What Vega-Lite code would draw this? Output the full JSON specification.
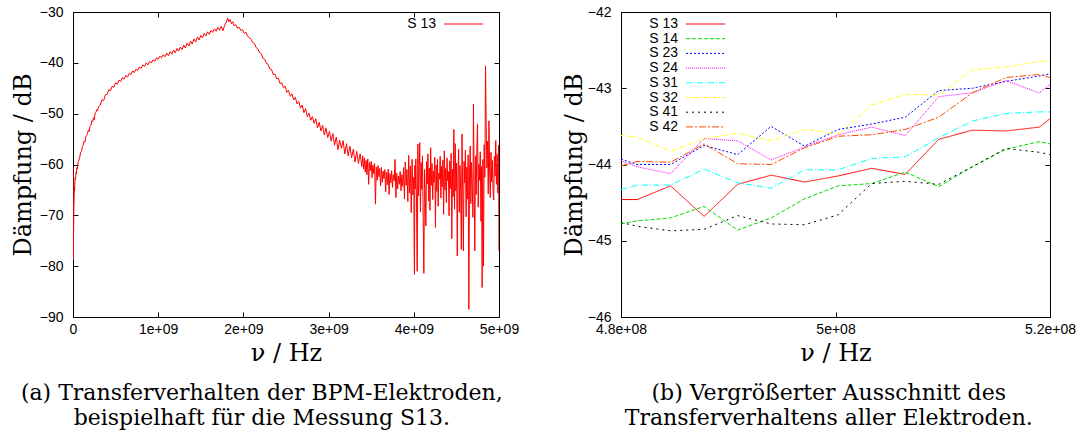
{
"$schema": "https://vega.github.io/schema/vega-lite/v6.json",
"padding": {"left": 10, "top": 4, "right": 0, "bottom": 0},
"spacing": 122,
"bounds": "flush",
"resolve": {"scale": {"color": "independent", "strokeDash": "independent"}, "legend": {"color": "independent", "strokeDash": "independent"}},
"config": {
 "view": {"stroke": "black", "strokeWidth": 1},
 "axis": {"domain": false, "grid": false, "ticks": true, "tickColor": "black", "tickSize": -5, "tickWidth": 1, "labelFont": "Liberation Sans", "labelFontSize": 14, "labelColor": "black", "labelFlush": false, "labelOverlap": false, "titleFont": "DejaVu Serif", "titleFontSize": 24, "titleFontWeight": "normal", "titleColor": "black"},
 "title": {"font": "DejaVu Serif", "fontSize": 22, "fontWeight": "normal", "color": "black", "lineHeight": 25},
 "legend": {"orient": "none", "title": null, "symbolType": "M-4,0H4", "symbolSize": 95, "symbolStrokeWidth": 1, "labelFont": "Liberation Sans", "labelFontSize": 14, "labelColor": "black", "labelAlign": "right", "labelOffset": -34.5, "rowPadding": 0.7, "padding": 0, "labelLimit": 300}
},
"hconcat": [
{
 "width": 426, "height": 305,
 "title": {"text": ["(a) Transferverhalten der BPM-Elektroden,", "beispielhaft für die Messung S13."], "orient": "bottom", "anchor": "middle", "frame": "bounds", "offset": 18, "dx": -3},
 "data": {"values": [
{"f":0,"d":-60.6},{"f":0.003e9,"d":-78.7},{"f":0.006e9,"d":-74.5},{"f":0.009e9,"d":-69.5},{"f":0.0125e9,"d":-66.8},{"f":0.016e9,"d":-64.6},{"f":0.019e9,"d":-65.2},{"f":0.022e9,"d":-63.4},{"f":0.025e9,"d":-62.7},{"f":0.03e9,"d":-62.9},{"f":0.035e9,"d":-61.6},{"f":0.04e9,"d":-61.8},{"f":0.045e9,"d":-60.6},{"f":0.05e9,"d":-60.9},{"f":0.06e9,"d":-59.6},{"f":0.07e9,"d":-59.1},{"f":0.08e9,"d":-58.5},{"f":0.09e9,"d":-57.6},
{"f":0.1e9,"d":-57.4},{"f":0.11e9,"d":-56.5},{"f":0.12e9,"d":-56.2},{"f":0.13e9,"d":-55.4},{"f":0.14e9,"d":-55.6},{"f":0.15e9,"d":-54.6},{"f":0.16e9,"d":-54.3},{"f":0.17e9,"d":-53.9},{"f":0.18e9,"d":-53.2},{"f":0.19e9,"d":-53.5},{"f":0.2e9,"d":-52.5},{"f":0.21e9,"d":-52.3},{"f":0.22e9,"d":-51.4},{"f":0.23e9,"d":-51.6},{"f":0.24e9,"d":-50.8},{"f":0.25e9,"d":-51.2},{"f":0.26e9,"d":-49.9},{"f":0.27e9,"d":-49.7},{"f":0.28e9,"d":-49.2},{"f":0.29e9,"d":-49.4},
{"f":0.3e9,"d":-48.6},{"f":0.32e9,"d":-48.3},{"f":0.34e9,"d":-47.3},{"f":0.36e9,"d":-47.4},{"f":0.38e9,"d":-46.3},{"f":0.4e9,"d":-46.2},{"f":0.42e9,"d":-45.3},{"f":0.44e9,"d":-45.5},{"f":0.46e9,"d":-44.6},{"f":0.48e9,"d":-44.8},{"f":0.5e9,"d":-43.9},{"f":0.52e9,"d":-44.2},{"f":0.54e9,"d":-43.4},{"f":0.56e9,"d":-43.7},{"f":0.58e9,"d":-42.9},{"f":0.6e9,"d":-43.2},{"f":0.62e9,"d":-42.5},{"f":0.64e9,"d":-42.8},{"f":0.66e9,"d":-42.1},{"f":0.68e9,"d":-42.3},
{"f":0.7e9,"d":-41.6},{"f":0.72e9,"d":-41.9},{"f":0.74e9,"d":-41.2},{"f":0.76e9,"d":-41.5},{"f":0.78e9,"d":-40.8},{"f":0.8e9,"d":-41.1},{"f":0.82e9,"d":-40.4},{"f":0.84e9,"d":-40.7},{"f":0.86e9,"d":-40.0},{"f":0.88e9,"d":-40.4},{"f":0.9e9,"d":-39.7},{"f":0.92e9,"d":-40.0},{"f":0.94e9,"d":-39.4},{"f":0.96e9,"d":-39.7},{"f":0.98e9,"d":-39.0},
{"f":1.0e9,"d":-39.3},{"f":1.02e9,"d":-38.7},{"f":1.04e9,"d":-39.0},{"f":1.06e9,"d":-38.4},{"f":1.08e9,"d":-38.8},{"f":1.1e9,"d":-38.1},{"f":1.12e9,"d":-38.6},{"f":1.14e9,"d":-37.8},{"f":1.16e9,"d":-38.3},{"f":1.18e9,"d":-37.5},{"f":1.2e9,"d":-38.0},{"f":1.22e9,"d":-37.2},{"f":1.24e9,"d":-37.7},{"f":1.26e9,"d":-36.9},{"f":1.28e9,"d":-37.4},{"f":1.3e9,"d":-36.5},{"f":1.32e9,"d":-37.1},{"f":1.34e9,"d":-36.1},{"f":1.36e9,"d":-36.7},{"f":1.38e9,"d":-35.7},{"f":1.4e9,"d":-36.3},{"f":1.42e9,"d":-35.3},{"f":1.44e9,"d":-35.9},{"f":1.46e9,"d":-34.9},{"f":1.48e9,"d":-35.5},
{"f":1.5e9,"d":-34.6},{"f":1.52e9,"d":-35.1},{"f":1.54e9,"d":-34.2},{"f":1.56e9,"d":-34.7},{"f":1.58e9,"d":-33.9},{"f":1.6e9,"d":-34.4},{"f":1.62e9,"d":-33.6},{"f":1.64e9,"d":-34.0},{"f":1.66e9,"d":-33.3},{"f":1.68e9,"d":-33.8},{"f":1.7e9,"d":-33.0},{"f":1.72e9,"d":-33.6},{"f":1.74e9,"d":-32.8},{"f":1.76e9,"d":-33.7},{"f":1.78e9,"d":-32.6},{"f":1.8e9,"d":-32.0},{"f":1.815e9,"d":-31.2},{"f":1.83e9,"d":-31.9},{"f":1.845e9,"d":-31.5},{"f":1.86e9,"d":-32.3},{"f":1.875e9,"d":-31.9},{"f":1.89e9,"d":-32.7},
{"f":1.91e9,"d":-32.5},{"f":1.93e9,"d":-33.2},{"f":1.95e9,"d":-33.0},{"f":1.97e9,"d":-33.6},{"f":1.99e9,"d":-33.5},{"f":2.01e9,"d":-34.2},{"f":2.03e9,"d":-34.0},{"f":2.05e9,"d":-34.8},{"f":2.07e9,"d":-35.0},{"f":2.09e9,"d":-35.4},{"f":2.11e9,"d":-36.0},{"f":2.13e9,"d":-36.2},{"f":2.15e9,"d":-37.0},{"f":2.17e9,"d":-37.3},{"f":2.19e9,"d":-38.0},{"f":2.21e9,"d":-38.2},{"f":2.23e9,"d":-39.1},{"f":2.25e9,"d":-39.3},{"f":2.27e9,"d":-40.1},{"f":2.29e9,"d":-40.3},
{"f":2.31e9,"d":-41.2},{"f":2.33e9,"d":-41.3},{"f":2.35e9,"d":-42.3},{"f":2.37e9,"d":-42.2},{"f":2.39e9,"d":-43.1},{"f":2.41e9,"d":-43.0},{"f":2.43e9,"d":-44.1},{"f":2.45e9,"d":-43.9},{"f":2.47e9,"d":-44.9},{"f":2.49e9,"d":-44.6},{"f":2.51e9,"d":-45.8},{"f":2.53e9,"d":-45.4},{"f":2.55e9,"d":-46.6},{"f":2.57e9,"d":-46.1},{"f":2.59e9,"d":-47.3},{"f":2.61e9,"d":-46.8},{"f":2.63e9,"d":-48.1},{"f":2.65e9,"d":-47.6},{"f":2.67e9,"d":-48.9},{"f":2.69e9,"d":-48.3},
{"f":2.71e9,"d":-49.8},{"f":2.73e9,"d":-49.0},{"f":2.75e9,"d":-50.6},{"f":2.77e9,"d":-49.9},{"f":2.79e9,"d":-51.3},{"f":2.81e9,"d":-50.6},{"f":2.83e9,"d":-51.9},{"f":2.85e9,"d":-51.0},{"f":2.87e9,"d":-52.8},{"f":2.89e9,"d":-51.7},{"f":2.91e9,"d":-53.4},{"f":2.93e9,"d":-52.3},{"f":2.95e9,"d":-54.2},{"f":2.97e9,"d":-52.8},{"f":2.99e9,"d":-54.7},{"f":3.01e9,"d":-53.5},{"f":3.03e9,"d":-55.4},{"f":3.05e9,"d":-53.9},{"f":3.07e9,"d":-56.2},{"f":3.09e9,"d":-54.6},
{"f":3.11e9,"d":-57.1},{"f":3.13e9,"d":-55.2},{"f":3.15e9,"d":-56.8},{"f":3.17e9,"d":-55.3},{"f":3.19e9,"d":-57.9},{"f":3.21e9,"d":-55.9},{"f":3.23e9,"d":-58.3},{"f":3.25e9,"d":-56.4},{"f":3.27e9,"d":-58.7},{"f":3.29e9,"d":-57.0},{"f":3.31e9,"d":-59.5},{"f":3.33e9,"d":-57.4},{"f":3.35e9,"d":-59.8},{"f":3.37e9,"d":-57.9},{"f":3.39e9,"d":-60.4},
{"f":3.40e9,"d":-58.3},{"f":3.41e9,"d":-60.9},{"f":3.42e9,"d":-58.7},{"f":3.43e9,"d":-61.5},{"f":3.44e9,"d":-59.2},{"f":3.45e9,"d":-62.0},{"f":3.46e9,"d":-58.9},{"f":3.47e9,"d":-63.9},{"f":3.48e9,"d":-59.6},{"f":3.49e9,"d":-61.2},{"f":3.50e9,"d":-59.4},{"f":3.51e9,"d":-62.6},{"f":3.52e9,"d":-60.1},{"f":3.53e9,"d":-61.8},{"f":3.54e9,"d":-59.8},{"f":3.55e9,"d":-67.8},{"f":3.56e9,"d":-60.5},{"f":3.57e9,"d":-63.1},{"f":3.58e9,"d":-60.2},{"f":3.59e9,"d":-62.4},
{"f":3.60e9,"d":-60.8},{"f":3.61e9,"d":-64.2},{"f":3.62e9,"d":-60.6},{"f":3.63e9,"d":-63.5},{"f":3.64e9,"d":-61.3},{"f":3.65e9,"d":-62.8},{"f":3.66e9,"d":-61.0},{"f":3.67e9,"d":-65.4},{"f":3.68e9,"d":-61.5},{"f":3.69e9,"d":-64.0},{"f":3.70e9,"d":-60.9},{"f":3.71e9,"d":-65.9},{"f":3.72e9,"d":-61.8},{"f":3.73e9,"d":-63.6},{"f":3.74e9,"d":-61.2},{"f":3.75e9,"d":-64.5},{"f":3.76e9,"d":-62.0},{"f":3.77e9,"d":-63.2},{"f":3.78e9,"d":-59.0},{"f":3.79e9,"d":-66.5},
{"f":3.80e9,"d":-61.7},{"f":3.81e9,"d":-64.8},{"f":3.82e9,"d":-62.3},{"f":3.83e9,"d":-63.9},{"f":3.84e9,"d":-61.4},{"f":3.85e9,"d":-65.2},{"f":3.86e9,"d":-62.0},{"f":3.87e9,"d":-64.3},{"f":3.88e9,"d":-60.6},{"f":3.89e9,"d":-66.8},{"f":3.90e9,"d":-59.5},{"f":3.91e9,"d":-64.1},{"f":3.92e9,"d":-61.0},{"f":3.93e9,"d":-67.3},{"f":3.94e9,"d":-58.2},{"f":3.95e9,"d":-65.6},{"f":3.96e9,"d":-60.3},{"f":3.97e9,"d":-69.5},{"f":3.98e9,"d":-59.0},{"f":3.99e9,"d":-66.0},
{"f":4.000e9,"d":-62.5},{"f":4.004e9,"d":-76.7},{"f":4.008e9,"d":-81.6},{"f":4.012e9,"d":-60.2},{"f":4.016e9,"d":-64.8},{"f":4.024e9,"d":-58.9},{"f":4.032e9,"d":-67.4},{"f":4.040e9,"d":-81.0},{"f":4.048e9,"d":-56.0},{"f":4.056e9,"d":-66.2},{"f":4.064e9,"d":-60.4},{"f":4.070e9,"d":-55.7},{"f":4.078e9,"d":-69.3},{"f":4.086e9,"d":-59.6},{"f":4.094e9,"d":-64.9},{"f":4.102e9,"d":-58.3},{"f":4.110e9,"d":-70.8},{"f":4.118e9,"d":-81.4},{"f":4.126e9,"d":-61.0},{"f":4.134e9,"d":-65.7},
{"f":4.142e9,"d":-72.1},{"f":4.150e9,"d":-59.4},{"f":4.158e9,"d":-63.8},{"f":4.166e9,"d":-57.9},{"f":4.174e9,"d":-67.2},{"f":4.182e9,"d":-60.7},{"f":4.190e9,"d":-69.0},{"f":4.198e9,"d":-56.7},{"f":4.206e9,"d":-64.1},{"f":4.214e9,"d":-59.8},{"f":4.222e9,"d":-66.9},{"f":4.230e9,"d":-61.3},{"f":4.238e9,"d":-63.5},{"f":4.246e9,"d":-58.6},{"f":4.254e9,"d":-72.4},{"f":4.262e9,"d":-60.1},{"f":4.270e9,"d":-65.3},{"f":4.278e9,"d":-59.0},{"f":4.286e9,"d":-68.2},{"f":4.294e9,"d":-61.7},
{"f":4.302e9,"d":-62.9},{"f":4.310e9,"d":-58.4},{"f":4.318e9,"d":-66.6},{"f":4.326e9,"d":-60.3},{"f":4.334e9,"d":-64.4},{"f":4.342e9,"d":-59.1},{"f":4.350e9,"d":-69.8},{"f":4.358e9,"d":-57.3},{"f":4.366e9,"d":-65.0},{"f":4.374e9,"d":-60.8},{"f":4.382e9,"d":-67.5},{"f":4.390e9,"d":-58.7},{"f":4.398e9,"d":-63.2},{"f":4.406e9,"d":-61.4},{"f":4.414e9,"d":-70.1},{"f":4.422e9,"d":-59.3},{"f":4.430e9,"d":-64.7},{"f":4.438e9,"d":-57.8},{"f":4.446e9,"d":-74.6},{"f":4.454e9,"d":-60.9},
{"f":4.462e9,"d":-66.3},{"f":4.470e9,"d":-53.1},{"f":4.478e9,"d":-68.8},{"f":4.486e9,"d":-55.9},{"f":4.494e9,"d":-65.2},{"f":4.502e9,"d":-59.7},{"f":4.510e9,"d":-78.0},{"f":4.518e9,"d":-61.8},{"f":4.526e9,"d":-57.0},{"f":4.534e9,"d":-69.4},{"f":4.542e9,"d":-60.2},{"f":4.550e9,"d":-64.9},{"f":4.558e9,"d":-76.7},{"f":4.566e9,"d":-54.0},{"f":4.574e9,"d":-66.1},{"f":4.582e9,"d":-77.0},{"f":4.590e9,"d":-59.4},{"f":4.598e9,"d":-63.6},{"f":4.606e9,"d":-57.2},{"f":4.614e9,"d":-70.3},
{"f":4.622e9,"d":-60.5},{"f":4.630e9,"d":-66.8},{"f":4.638e9,"d":-58.1},{"f":4.646e9,"d":-88.5},{"f":4.654e9,"d":-62.0},{"f":4.662e9,"d":-56.4},{"f":4.670e9,"d":-67.7},{"f":4.678e9,"d":-59.6},{"f":4.686e9,"d":-64.3},{"f":4.694e9,"d":-70.4},{"f":4.700e9,"d":-48.1},{"f":4.708e9,"d":-62.7},{"f":4.716e9,"d":-77.0},{"f":4.724e9,"d":-58.3},{"f":4.732e9,"d":-65.9},{"f":4.740e9,"d":-56.6},{"f":4.748e9,"d":-52.0},{"f":4.756e9,"d":-68.4},{"f":4.764e9,"d":-59.9},{"f":4.772e9,"d":-63.1},
{"f":4.780e9,"d":-57.5},{"f":4.788e9,"d":-71.2},{"f":4.796e9,"d":-60.4},{"f":4.802e9,"d":-84.2},{"f":4.810e9,"d":-59.0},{"f":4.818e9,"d":-80.0},{"f":4.826e9,"d":-56.1},{"f":4.834e9,"d":-62.5},{"f":4.842e9,"d":-40.6},{"f":4.850e9,"d":-52.8},{"f":4.858e9,"d":-60.7},{"f":4.866e9,"d":-55.4},{"f":4.874e9,"d":-65.8},{"f":4.882e9,"d":-51.4},{"f":4.890e9,"d":-61.1},{"f":4.898e9,"d":-66.5},{"f":4.906e9,"d":-57.6},{"f":4.914e9,"d":-63.4},{"f":4.922e9,"d":-59.2},{"f":4.930e9,"d":-64.8},
{"f":4.938e9,"d":-67.0},{"f":4.946e9,"d":-58.4},{"f":4.954e9,"d":-62.3},{"f":4.962e9,"d":-55.3},{"f":4.970e9,"d":-63.9},{"f":4.978e9,"d":-58.0},{"f":4.986e9,"d":-65.6},{"f":4.994e9,"d":-56.2},{"f":5.000e9,"d":-77.0}
 ]},
 "layer": [
  {"mark": {"type": "line", "strokeWidth": 1, "clip": true},
   "encoding": {
    "x": {"field": "f", "type": "quantitative", "scale": {"domain": [0, 5e9], "nice": false, "zero": false},
      "axis": {"orient": "bottom", "values": [0, 1e9, 2e9, 3e9, 4e9, 5e9], "labelExpr": "datum.value == 0 ? '0' : (datum.value / 1e9) + 'e+09'", "labelPadding": 10, "title": "ν / Hz", "titleY": 36, "titleBaseline": "middle"}},
    "y": {"field": "d", "type": "quantitative", "scale": {"domain": [-90, -30], "nice": false, "zero": false},
      "axis": {"orient": "left", "values": [-90, -80, -70, -60, -50, -40, -30], "labelPadding": 15, "title": "Dämpfung / dB", "titleX": -50, "titleY": 152.5, "titleAngle": -90, "titleBaseline": "middle", "titleAlign": "center"}},
    "color": {"datum": "S 13", "type": "nominal", "scale": {"range": ["#ff0000"]}, "legend": {"legendX": 383.5, "legendY": 5}}
   }},
  {"mark": {"type": "point", "opacity": 0},
   "encoding": {
    "x": {"field": "f", "type": "quantitative", "scale": {"domain": [0, 5e9], "nice": false, "zero": false},
      "axis": {"orient": "top", "values": [0, 1e9, 2e9, 3e9, 4e9, 5e9], "labels": false, "title": null}},
    "y": {"field": "d", "type": "quantitative", "scale": {"domain": [-90, -30], "nice": false, "zero": false},
      "axis": {"orient": "right", "values": [-90, -80, -70, -60, -50, -40, -30], "labels": false, "title": null}}
   }}
 ],
 "resolve": {"axis": {"x": "independent", "y": "independent"}}
},
{
 "width": 429, "height": 305,
 "title": {"text": ["(b) Vergrößerter Ausschnitt des", "Transferverhaltens aller Elektroden."], "orient": "bottom", "anchor": "middle", "frame": "bounds", "offset": 18, "dx": 10},
 "data": {"values": [
{"s":"S 13","f":4.8e8,"d":-44.46},{"s":"S 13","f":4.815e8,"d":-44.46},{"s":"S 13","f":4.84625e8,"d":-44.28},{"s":"S 13","f":4.8775e8,"d":-44.68},{"s":"S 13","f":4.90875e8,"d":-44.26},{"s":"S 13","f":4.94e8,"d":-44.14},{"s":"S 13","f":4.97125e8,"d":-44.23},{"s":"S 13","f":5.0025e8,"d":-44.15},{"s":"S 13","f":5.03375e8,"d":-44.05},{"s":"S 13","f":5.065e8,"d":-44.13},{"s":"S 13","f":5.09625e8,"d":-43.67},{"s":"S 13","f":5.1275e8,"d":-43.55},{"s":"S 13","f":5.15875e8,"d":-43.56},{"s":"S 13","f":5.19e8,"d":-43.51},{"s":"S 13","f":5.2e8,"d":-43.40},
{"s":"S 14","f":4.8e8,"d":-44.78},{"s":"S 14","f":4.815e8,"d":-44.74},{"s":"S 14","f":4.84625e8,"d":-44.70},{"s":"S 14","f":4.8775e8,"d":-44.55},{"s":"S 14","f":4.90875e8,"d":-44.86},{"s":"S 14","f":4.94e8,"d":-44.70},{"s":"S 14","f":4.97125e8,"d":-44.45},{"s":"S 14","f":5.0025e8,"d":-44.28},{"s":"S 14","f":5.03375e8,"d":-44.25},{"s":"S 14","f":5.065e8,"d":-44.10},{"s":"S 14","f":5.09625e8,"d":-44.29},{"s":"S 14","f":5.1275e8,"d":-44.03},{"s":"S 14","f":5.15875e8,"d":-43.80},{"s":"S 14","f":5.19e8,"d":-43.70},{"s":"S 14","f":5.2e8,"d":-43.73},
{"s":"S 23","f":4.8e8,"d":-43.93},{"s":"S 23","f":4.815e8,"d":-44.00},{"s":"S 23","f":4.84625e8,"d":-44.00},{"s":"S 23","f":4.8775e8,"d":-43.75},{"s":"S 23","f":4.90875e8,"d":-43.87},{"s":"S 23","f":4.94e8,"d":-43.50},{"s":"S 23","f":4.97125e8,"d":-43.76},{"s":"S 23","f":5.0025e8,"d":-43.54},{"s":"S 23","f":5.03375e8,"d":-43.47},{"s":"S 23","f":5.065e8,"d":-43.38},{"s":"S 23","f":5.09625e8,"d":-43.03},{"s":"S 23","f":5.1275e8,"d":-43.00},{"s":"S 23","f":5.15875e8,"d":-42.91},{"s":"S 23","f":5.19e8,"d":-42.84},{"s":"S 23","f":5.2e8,"d":-42.81},
{"s":"S 24","f":4.8e8,"d":-43.95},{"s":"S 24","f":4.815e8,"d":-44.03},{"s":"S 24","f":4.84625e8,"d":-44.12},{"s":"S 24","f":4.8775e8,"d":-43.66},{"s":"S 24","f":4.90875e8,"d":-43.69},{"s":"S 24","f":4.94e8,"d":-43.94},{"s":"S 24","f":4.97125e8,"d":-43.77},{"s":"S 24","f":5.0025e8,"d":-43.61},{"s":"S 24","f":5.03375e8,"d":-43.51},{"s":"S 24","f":5.065e8,"d":-43.62},{"s":"S 24","f":5.09625e8,"d":-43.11},{"s":"S 24","f":5.1275e8,"d":-43.06},{"s":"S 24","f":5.15875e8,"d":-42.90},{"s":"S 24","f":5.19e8,"d":-43.06},{"s":"S 24","f":5.2e8,"d":-42.95},
{"s":"S 31","f":4.8e8,"d":-44.33},{"s":"S 31","f":4.815e8,"d":-44.27},{"s":"S 31","f":4.84625e8,"d":-44.27},{"s":"S 31","f":4.8775e8,"d":-44.06},{"s":"S 31","f":4.90875e8,"d":-44.24},{"s":"S 31","f":4.94e8,"d":-44.31},{"s":"S 31","f":4.97125e8,"d":-44.07},{"s":"S 31","f":5.0025e8,"d":-44.07},{"s":"S 31","f":5.03375e8,"d":-43.92},{"s":"S 31","f":5.065e8,"d":-43.90},{"s":"S 31","f":5.09625e8,"d":-43.65},{"s":"S 31","f":5.1275e8,"d":-43.43},{"s":"S 31","f":5.15875e8,"d":-43.33},{"s":"S 31","f":5.19e8,"d":-43.31},{"s":"S 31","f":5.2e8,"d":-43.31},
{"s":"S 32","f":4.8e8,"d":-43.62},{"s":"S 32","f":4.815e8,"d":-43.64},{"s":"S 32","f":4.84625e8,"d":-43.83},{"s":"S 32","f":4.8775e8,"d":-43.66},{"s":"S 32","f":4.90875e8,"d":-43.59},{"s":"S 32","f":4.94e8,"d":-43.69},{"s":"S 32","f":4.97125e8,"d":-43.54},{"s":"S 32","f":5.0025e8,"d":-43.60},{"s":"S 32","f":5.03375e8,"d":-43.22},{"s":"S 32","f":5.065e8,"d":-43.08},{"s":"S 32","f":5.09625e8,"d":-43.09},{"s":"S 32","f":5.1275e8,"d":-42.76},{"s":"S 32","f":5.15875e8,"d":-42.72},{"s":"S 32","f":5.19e8,"d":-42.65},{"s":"S 32","f":5.2e8,"d":-42.63},
{"s":"S 41","f":4.8e8,"d":-44.76},{"s":"S 41","f":4.815e8,"d":-44.81},{"s":"S 41","f":4.84625e8,"d":-44.87},{"s":"S 41","f":4.8775e8,"d":-44.85},{"s":"S 41","f":4.90875e8,"d":-44.67},{"s":"S 41","f":4.94e8,"d":-44.78},{"s":"S 41","f":4.97125e8,"d":-44.79},{"s":"S 41","f":5.0025e8,"d":-44.66},{"s":"S 41","f":5.03375e8,"d":-44.25},{"s":"S 41","f":5.065e8,"d":-44.22},{"s":"S 41","f":5.09625e8,"d":-44.26},{"s":"S 41","f":5.1275e8,"d":-44.03},{"s":"S 41","f":5.15875e8,"d":-43.79},{"s":"S 41","f":5.19e8,"d":-43.84},{"s":"S 41","f":5.2e8,"d":-43.87},
{"s":"S 42","f":4.8e8,"d":-44.02},{"s":"S 42","f":4.815e8,"d":-43.96},{"s":"S 42","f":4.84625e8,"d":-43.97},{"s":"S 42","f":4.8775e8,"d":-43.73},{"s":"S 42","f":4.90875e8,"d":-43.99},{"s":"S 42","f":4.94e8,"d":-44.00},{"s":"S 42","f":4.97125e8,"d":-43.78},{"s":"S 42","f":5.0025e8,"d":-43.63},{"s":"S 42","f":5.03375e8,"d":-43.61},{"s":"S 42","f":5.065e8,"d":-43.54},{"s":"S 42","f":5.09625e8,"d":-43.38},{"s":"S 42","f":5.1275e8,"d":-43.06},{"s":"S 42","f":5.15875e8,"d":-42.86},{"s":"S 42","f":5.19e8,"d":-42.82},{"s":"S 42","f":5.2e8,"d":-42.86}
 ]},
 "layer": [
  {"mark": {"type": "line", "strokeWidth": 1, "clip": true},
   "encoding": {
    "x": {"field": "f", "type": "quantitative", "scale": {"domain": [4.8e8, 5.2e8], "nice": false, "zero": false},
      "axis": {"orient": "bottom", "values": [4.8e8, 5e8, 5.2e8], "labelExpr": "(datum.value / 1e8) + 'e+08'", "labelPadding": 10, "title": "ν / Hz", "titleY": 36, "titleBaseline": "middle"}},
    "y": {"field": "d", "type": "quantitative", "scale": {"domain": [-46, -42], "nice": false, "zero": false},
      "axis": {"orient": "left", "values": [-46, -45, -44, -43, -42], "labelPadding": 15, "title": "Dämpfung / dB", "titleX": -47, "titleY": 152.5, "titleAngle": -90, "titleBaseline": "middle", "titleAlign": "center"}},
    "color": {"field": "s", "type": "nominal", "sort": ["S 13", "S 14", "S 23", "S 24", "S 31", "S 32", "S 41", "S 42"],
      "scale": {"domain": ["S 13", "S 14", "S 23", "S 24", "S 31", "S 32", "S 41", "S 42"], "range": ["#ff0000", "#00dd00", "#0000ff", "#ff00ff", "#00ffff", "#ffff00", "#000000", "#ff4d00"]},
      "legend": {"legendX": 77.5, "legendY": 5}},
    "strokeDash": {"field": "s", "type": "nominal", "sort": ["S 13", "S 14", "S 23", "S 24", "S 31", "S 32", "S 41", "S 42"],
      "scale": {"domain": ["S 13", "S 14", "S 23", "S 24", "S 31", "S 32", "S 41", "S 42"], "range": [[1, 0], [4, 2], [2, 2], [1, 1], [6, 2, 1, 2], [4, 2, 1, 2], [2, 4], [7, 2, 2, 2]]},
      "legend": {"legendX": 77.5, "legendY": 5}}
   }},
  {"mark": {"type": "point", "opacity": 0},
   "encoding": {
    "x": {"field": "f", "type": "quantitative", "scale": {"domain": [4.8e8, 5.2e8], "nice": false, "zero": false},
      "axis": {"orient": "top", "values": [4.8e8, 5e8, 5.2e8], "labels": false, "title": null}},
    "y": {"field": "d", "type": "quantitative", "scale": {"domain": [-46, -42], "nice": false, "zero": false},
      "axis": {"orient": "right", "values": [-46, -45, -44, -43, -42], "labels": false, "title": null}}
   }}
 ],
 "resolve": {"axis": {"x": "independent", "y": "independent"}}
}
]
}
